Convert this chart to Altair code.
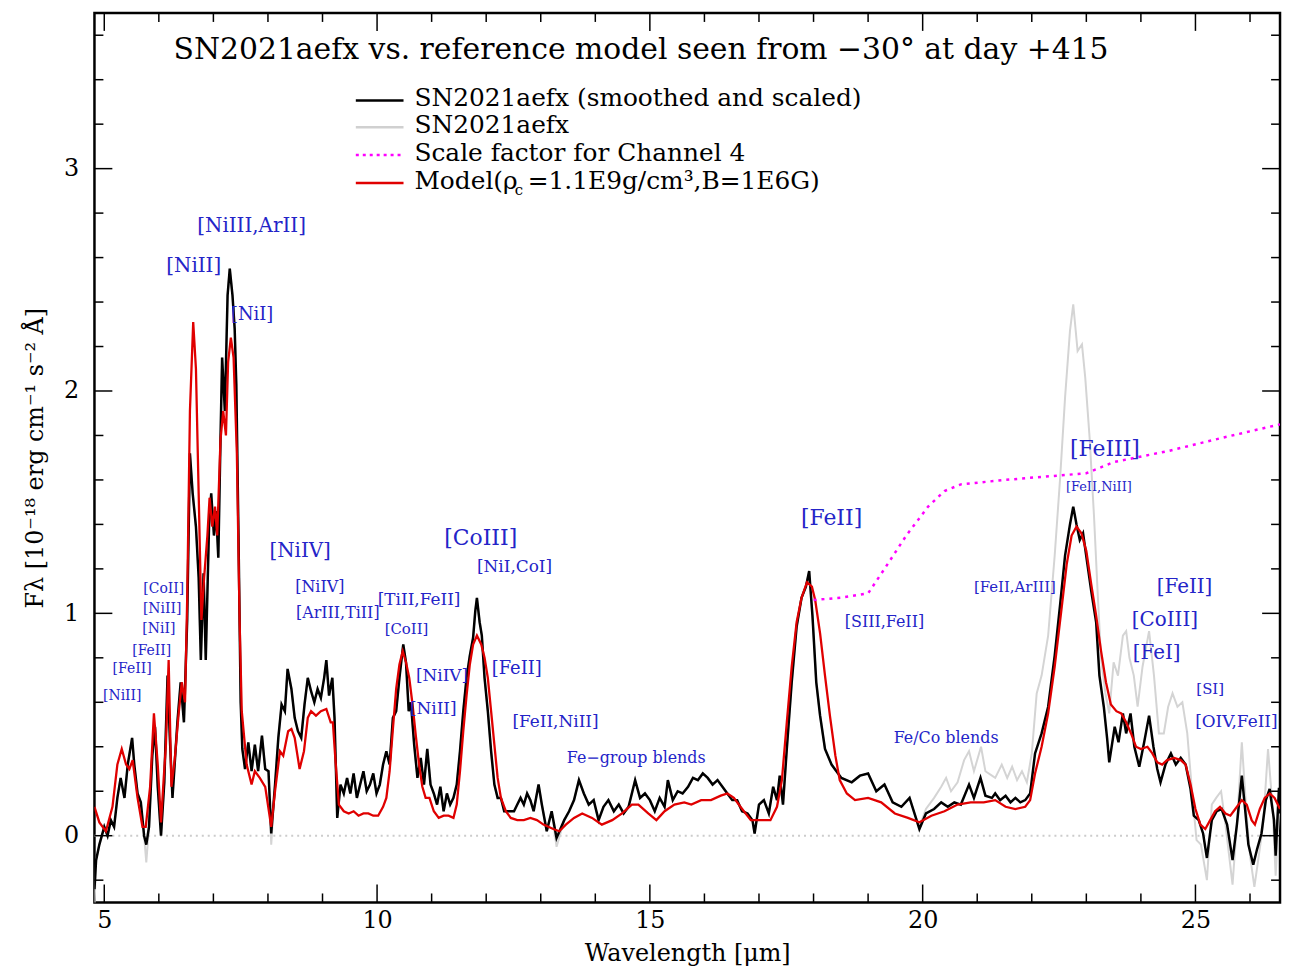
import altair as alt
import pandas as pd

# plot frame
X_MIN, X_MAX = 4.82, 26.55
Y_MIN, Y_MAX = -0.30, 3.70
W, H = 1193, 895

# SN2021aefx, smoothed and scaled (black)
obs_wave = [
    4.82, 4.85, 4.91, 5.00, 5.06, 5.12, 5.18, 5.24, 5.30, 5.37, 5.43, 5.51, 5.55, 5.61, 5.67,
    5.73, 5.77, 5.82, 5.88, 5.93, 5.98, 6.04, 6.10, 6.16, 6.20, 6.25, 6.34, 6.40, 6.46, 6.52,
    6.57, 6.62, 6.68, 6.73, 6.77, 6.82, 6.86, 6.92, 6.96, 7.01, 7.05, 7.09, 7.13, 7.16, 7.21,
    7.26, 7.30, 7.35, 7.39, 7.42, 7.46, 7.50, 7.53, 7.58, 7.64, 7.70, 7.76, 7.82, 7.89, 7.95,
    8.01, 8.06, 8.13, 8.19, 8.25, 8.31, 8.36, 8.43, 8.49, 8.55, 8.61, 8.67, 8.73, 8.79, 8.85,
    8.91, 8.97, 9.03, 9.07, 9.12, 9.18, 9.22, 9.27, 9.33, 9.39, 9.45, 9.51, 9.57, 9.63, 9.69,
    9.75, 9.81, 9.87, 9.93, 9.99, 10.05, 10.11, 10.17, 10.23, 10.29, 10.35, 10.41, 10.48, 10.53,
    10.58, 10.62, 10.68, 10.74, 10.80, 10.86, 10.92, 10.98, 11.04, 11.10, 11.16, 11.22, 11.28,
    11.34, 11.40, 11.46, 11.52, 11.58, 11.64, 11.70, 11.76, 11.80, 11.83, 11.88, 11.92, 11.97,
    12.03, 12.09, 12.15, 12.21, 12.27, 12.33, 12.39, 12.45, 12.51, 12.57, 12.63, 12.69, 12.75,
    12.81, 12.87, 12.96, 13.02, 13.11, 13.20, 13.29, 13.43, 13.52, 13.61, 13.70, 13.79, 13.88,
    13.97, 14.06, 14.15, 14.24, 14.34, 14.43, 14.52, 14.61, 14.73, 14.82, 14.91, 15.00, 15.09,
    15.18, 15.27, 15.33, 15.42, 15.51, 15.60, 15.70, 15.79, 15.88, 15.97, 16.06, 16.15, 16.24,
    16.33, 16.42, 16.51, 16.60, 16.69, 16.79, 16.88, 16.92, 17.00, 17.09, 17.18, 17.26, 17.33,
    17.38, 17.44, 17.51, 17.60, 17.69, 17.78, 17.86, 17.92, 17.98, 18.05, 18.12, 18.21, 18.33,
    18.51, 18.70, 18.85, 19.00, 19.15, 19.30, 19.45, 19.61, 19.76, 19.85, 19.94, 20.06, 20.21,
    20.34, 20.46, 20.58, 20.70, 20.85, 20.94, 21.06, 21.15, 21.27, 21.33, 21.42, 21.52, 21.61,
    21.70, 21.79, 21.88, 21.97, 22.06, 22.18, 22.30, 22.42, 22.52, 22.61, 22.70, 22.76, 22.82,
    22.88, 22.94, 23.02, 23.09, 23.18, 23.24, 23.32, 23.38, 23.42, 23.52, 23.59, 23.67, 23.73,
    23.81, 23.88, 23.97, 24.06, 24.15, 24.23, 24.30, 24.36, 24.45, 24.55, 24.64, 24.73, 24.82,
    24.91, 24.97, 25.06, 25.14, 25.21, 25.30, 25.39, 25.48, 25.58, 25.68, 25.76, 25.85, 25.91,
    25.97, 26.06, 26.13, 26.21, 26.29, 26.36, 26.44, 26.47, 26.53, 26.55,
]
obs_flux = [
    -0.24, -0.11, -0.04, 0.04, 0.00, 0.07, 0.04, 0.17, 0.26, 0.17, 0.32, 0.44, 0.32, 0.19, 0.15,
    0.00, -0.04, 0.04, 0.36, 0.49, 0.22, 0.00, 0.24, 0.72, 0.45, 0.17, 0.51, 0.69, 0.51, 0.97,
    1.72, 1.54, 1.39, 1.16, 0.79, 1.18, 0.79, 1.39, 1.54, 1.35, 1.46, 1.25, 1.78, 2.15, 1.91,
    2.43, 2.55, 2.43, 2.28, 2.03, 1.35, 0.60, 0.39, 0.30, 0.42, 0.29, 0.41, 0.29, 0.45, 0.30,
    0.29, 0.01, 0.23, 0.44, 0.59, 0.56, 0.75, 0.66, 0.53, 0.47, 0.44, 0.59, 0.71, 0.65, 0.60,
    0.66, 0.62, 0.71, 0.79, 0.63, 0.71, 0.53, 0.08, 0.23, 0.19, 0.26, 0.19, 0.28, 0.17, 0.23,
    0.29, 0.20, 0.23, 0.28, 0.19, 0.23, 0.32, 0.38, 0.32, 0.53, 0.56, 0.71, 0.86, 0.78,
    0.56, 0.60, 0.41, 0.26, 0.35, 0.23, 0.39, 0.23, 0.19, 0.14, 0.22, 0.11, 0.19,
    0.14, 0.17, 0.23, 0.38, 0.56, 0.71, 0.81, 0.89, 1.01, 1.07, 0.96, 0.90, 0.71,
    0.56, 0.38, 0.23, 0.17, 0.17, 0.11, 0.11, 0.11, 0.11, 0.14, 0.17, 0.14, 0.19,
    0.16, 0.11, 0.23, 0.14, 0.02, 0.11, -0.01, 0.07, 0.11, 0.16, 0.25, 0.19, 0.14,
    0.16, 0.07, 0.13, 0.16, 0.11, 0.14, 0.10, 0.13, 0.25, 0.17, 0.19, 0.16, 0.11,
    0.17, 0.13, 0.25, 0.16, 0.20, 0.19, 0.22, 0.26, 0.25, 0.28, 0.26, 0.23, 0.25,
    0.22, 0.19, 0.16, 0.16, 0.11, 0.10, 0.07, 0.01, 0.14, 0.16, 0.10, 0.22, 0.16,
    0.27, 0.14, 0.39, 0.69, 0.94, 1.07, 1.12, 1.19, 0.99, 0.69, 0.54, 0.39, 0.32,
    0.26, 0.24, 0.27, 0.28, 0.20, 0.23, 0.15, 0.13, 0.17, 0.10, 0.03, 0.10, 0.12,
    0.15, 0.13, 0.15, 0.14, 0.23, 0.17, 0.26, 0.18, 0.17, 0.19, 0.16, 0.18, 0.15,
    0.17, 0.15, 0.16, 0.19, 0.37, 0.46, 0.58, 0.81, 1.04, 1.26, 1.40, 1.48, 1.40,
    1.33, 1.36, 1.22, 1.10, 0.96, 0.72, 0.58, 0.44, 0.33, 0.49, 0.42, 0.55, 0.46,
    0.55, 0.40, 0.31, 0.42, 0.54, 0.40, 0.30, 0.24, 0.32, 0.37, 0.32, 0.35, 0.32,
    0.21, 0.09, 0.07, 0.01, -0.10, 0.07, 0.11, 0.12, 0.05, -0.11, 0.05, 0.27, 0.12,
    -0.04, -0.13, -0.06, 0.01, 0.16, 0.21, 0.07, -0.09, 0.21, 0.21,
]

# SN2021aefx unsmoothed (light grey): where it departs from the black curve
raw_dips = {4.82: -0.32, 5.77: -0.12, 8.06: -0.04, 13.29: -0.05}
raw_wave_hi = [
    19.94, 20.06, 20.21, 20.34, 20.43, 20.52, 20.64, 20.76, 20.85, 20.94, 21.07, 21.15, 21.27,
    21.33, 21.45, 21.55, 21.64, 21.73, 21.82, 21.91, 22.00, 22.09, 22.18, 22.30, 22.42, 22.52,
    22.61, 22.70, 22.76, 22.84, 22.92, 22.98, 23.06, 23.14, 23.21, 23.27, 23.35, 23.42, 23.50,
    23.58, 23.67, 23.73, 23.79, 23.87, 23.94, 24.03, 24.15, 24.24, 24.33, 24.42, 24.50, 24.58,
    24.67, 24.76, 24.85, 24.94, 25.02, 25.10, 25.21, 25.30, 25.38, 25.47, 25.55, 25.68, 25.77,
    25.85, 25.93, 26.00, 26.08, 26.15, 26.24, 26.33, 26.41, 26.47, 26.53,
]
raw_flux_hi = [
    0.04, 0.12, 0.17, 0.22, 0.26, 0.20, 0.24, 0.34, 0.38, 0.29, 0.40, 0.29, 0.27,
    0.26, 0.32, 0.26, 0.31, 0.25, 0.29, 0.24, 0.37, 0.64, 0.72, 0.90, 1.26, 1.61,
    1.97, 2.27, 2.39, 2.18, 2.21, 2.06, 1.79, 1.44, 1.08, 0.80, 0.64, 0.55, 0.78,
    0.72, 0.90, 0.92, 0.80, 0.72, 0.58, 0.76, 0.92, 0.72, 0.46, 0.46, 0.58, 0.64,
    0.58, 0.60, 0.46, 0.19, -0.02, -0.04, -0.20, 0.14, 0.17, 0.20, 0.05, -0.22, 0.09,
    0.42, 0.12, -0.09, -0.23, -0.11, 0.05, 0.39, 0.14, -0.18, 0.10,
]

# Model (red)
model_wave = [
    4.82, 4.91, 5.03, 5.15, 5.24, 5.32, 5.40, 5.46, 5.52, 5.61, 5.70, 5.76, 5.84, 5.91, 5.98,
    6.04, 6.09, 6.13, 6.18, 6.23, 6.29, 6.36, 6.42, 6.48, 6.52, 6.57, 6.63, 6.68, 6.73, 6.78,
    6.83, 6.89, 6.93, 6.98, 7.03, 7.07, 7.13, 7.18, 7.23, 7.27, 7.32, 7.37, 7.43, 7.48, 7.52,
    7.61, 7.70, 7.76, 7.85, 7.95, 8.06, 8.13, 8.22, 8.28, 8.37, 8.43, 8.49, 8.58, 8.66, 8.73,
    8.79, 8.88, 8.97, 9.07, 9.15, 9.19, 9.24, 9.30, 9.39, 9.48, 9.57, 9.66, 9.75, 9.84, 9.93,
    10.02, 10.11, 10.17, 10.23, 10.29, 10.35, 10.41, 10.47, 10.53, 10.59, 10.65, 10.71, 10.77,
    10.83, 10.89, 10.96, 11.04, 11.13, 11.22, 11.31, 11.40, 11.46, 11.52, 11.58, 11.64, 11.70,
    11.76, 11.83, 11.91, 11.97, 12.03, 12.09, 12.15, 12.21, 12.27, 12.36, 12.45, 12.57, 12.69,
    12.81, 12.93, 13.05, 13.14, 13.23, 13.34, 13.46, 13.61, 13.76, 13.94, 14.12, 14.31, 14.49,
    14.67, 14.79, 14.97, 15.12, 15.27, 15.45, 15.63, 15.76, 15.94, 16.12, 16.30, 16.42, 16.54,
    16.66, 16.85, 17.03, 17.21, 17.33, 17.42, 17.51, 17.60, 17.69, 17.78, 17.88, 17.97, 18.03,
    18.12, 18.21, 18.30, 18.40, 18.48, 18.61, 18.76, 19.00, 19.24, 19.49, 19.73, 19.94, 20.16,
    20.40, 20.64, 20.88, 21.12, 21.33, 21.52, 21.70, 21.88, 21.97, 22.06, 22.18, 22.30, 22.42,
    22.55, 22.64, 22.73, 22.82, 22.91, 23.00, 23.09, 23.18, 23.27, 23.36, 23.45, 23.55, 23.64,
    23.73, 23.82, 23.91, 24.00, 24.12, 24.21, 24.30, 24.39, 24.48, 24.61, 24.73, 24.82, 24.91,
    25.00, 25.09, 25.18, 25.27, 25.36, 25.45, 25.55, 25.64, 25.73, 25.85, 25.94, 26.03, 26.09,
    26.18, 26.27, 26.36, 26.45, 26.55,
]
model_flux = [
    0.13, 0.06, 0.02, 0.13, 0.32, 0.39, 0.32, 0.30, 0.34, 0.17, 0.04, 0.04, 0.22, 0.55, 0.32,
    0.06, 0.26, 0.41, 0.79, 0.22, 0.34, 0.54, 0.69, 0.60, 1.07, 1.91, 2.31, 2.10, 1.54, 0.97,
    1.16, 1.35, 1.52, 1.39, 1.48, 1.35, 1.78, 1.91, 1.80, 2.13, 2.24, 2.15, 1.72, 0.97, 0.56,
    0.32, 0.23, 0.29, 0.26, 0.22, 0.04, 0.20, 0.38, 0.36, 0.47, 0.48, 0.44, 0.30, 0.38, 0.53,
    0.56, 0.54, 0.56, 0.57, 0.51, 0.51, 0.33, 0.14, 0.11, 0.10, 0.11, 0.09, 0.10, 0.10, 0.09,
    0.09, 0.13, 0.17, 0.29, 0.48, 0.66, 0.77, 0.83, 0.78, 0.71, 0.59, 0.45, 0.32,
    0.22, 0.17, 0.17, 0.11, 0.08, 0.09, 0.09, 0.08, 0.14, 0.29, 0.47, 0.63, 0.77,
    0.86, 0.90, 0.86, 0.80, 0.71, 0.56, 0.41, 0.26, 0.17, 0.11, 0.08, 0.07, 0.07,
    0.08, 0.07, 0.05, 0.04, 0.03, 0.02, 0.05, 0.08, 0.10, 0.08, 0.05, 0.07, 0.10,
    0.14, 0.14, 0.10, 0.07, 0.11, 0.14, 0.15, 0.14, 0.16, 0.16, 0.18, 0.19, 0.17,
    0.13, 0.07, 0.07, 0.07, 0.13, 0.25, 0.51, 0.76, 0.96, 1.07, 1.14, 1.12, 1.06,
    0.91, 0.72, 0.54, 0.36, 0.25, 0.19, 0.16, 0.17, 0.15, 0.10, 0.08, 0.06, 0.09,
    0.11, 0.14, 0.15, 0.15, 0.16, 0.13, 0.12, 0.13, 0.16, 0.28, 0.40, 0.55, 0.76,
    1.03, 1.22, 1.35, 1.39, 1.36, 1.28, 1.13, 0.99, 0.83, 0.69, 0.59, 0.56, 0.55,
    0.51, 0.46, 0.40, 0.39, 0.40, 0.37, 0.33, 0.32, 0.34, 0.35, 0.34, 0.32, 0.23,
    0.12, 0.05, 0.03, 0.07, 0.11, 0.13, 0.10, 0.09, 0.12, 0.16, 0.14, 0.07, 0.05,
    0.12, 0.17, 0.19, 0.17, 0.12,
]

# scale factor for Channel 4 (magenta dotted)
scale_wave = [18.00, 18.50, 19.00, 19.30, 19.70, 20.10, 20.40, 20.70, 21.50, 22.50, 23.00,
              23.50, 24.50, 25.50, 26.55]
scale_flux = [1.06, 1.07, 1.09, 1.20, 1.35, 1.48, 1.55, 1.58, 1.60, 1.62, 1.63,
              1.68, 1.73, 1.79, 1.85]

# line identifications
lab_text = ["[NiIII,ArII]", "[NiII]", "[NiI]", "[NiIV]", "[NiIV]", "[ArIII,TiII]",
            "[TiII,FeII]", "[CoII]", "[CoIII]", "[NiI,CoI]", "[NiIV]", "[NiII]", "[FeII]",
            "[FeII,NiII]", "Fe\u2212group blends", "[FeII]", "[SIII,FeII]", "Fe/Co blends",
            "[FeII,ArIII]", "[FeIII]", "[FeII,NiII]", "[FeII]", "[CoIII]", "[FeI]", "[SI]",
            "[OIV,FeII]", "[CoII]", "[NiII]", "[NiI]", "[FeII]", "[FeII]", "[NiII]"]
lab_x = [7.70, 6.64, 7.71, 8.59, 8.95, 9.28, 10.77, 10.54, 11.90, 12.52, 11.19, 11.03, 12.56,
         13.27, 14.75, 18.33, 19.30, 20.43, 21.69, 23.34, 23.23, 24.80, 24.44, 24.29, 25.27,
         25.75, 6.09, 6.06, 6.00, 5.87, 5.51, 5.33]
lab_y = [2.74, 2.56, 2.34, 1.28, 1.12, 1.00, 1.06, 0.93, 1.34, 1.21, 0.72, 0.57, 0.75,
         0.51, 0.35, 1.43, 0.96, 0.44, 1.12, 1.74, 1.57, 1.12, 0.97, 0.82, 0.66,
         0.51, 1.11, 1.02, 0.93, 0.83, 0.75, 0.63]
lab_size = [20, 20, 18, 20, 16, 16, 17, 15, 22, 17, 17, 17, 18, 17, 16, 22, 16, 16, 15, 22,
            13, 20, 20, 20, 15, 17, 14, 14, 14, 14, 14, 14]

# legend rows (pixel rows inside the frame)
leg_text = ["SN2021aefx (smoothed and scaled)", "SN2021aefx", "Scale factor for Channel 4"]
leg_row = [86, 113, 141, 169]

raw_wave = [w for w in obs_wave if w < 19.9] + raw_wave_hi
raw_flux = [raw_dips.get(w, f) for w, f in zip(obs_wave, obs_flux) if w < 19.9] + raw_flux_hi

obs = pd.DataFrame({"wave": obs_wave, "flux": obs_flux})
raw = pd.DataFrame({"wave": raw_wave, "flux": raw_flux})
model = pd.DataFrame({"wave": model_wave, "flux": model_flux})
scale = pd.DataFrame({"wave": scale_wave, "flux": scale_flux})
labels = pd.DataFrame({"text": lab_text, "wave": lab_x, "flux": lab_y, "fs": lab_size})

SERIF = "DejaVu Serif"
BLUE = "#2424c8"
LEG_FS = 25

xs = alt.Scale(domain=[X_MIN, X_MAX], nice=False, zero=False)
ys = alt.Scale(domain=[Y_MIN, Y_MAX], nice=False, zero=False)

x_axis = alt.Axis(values=[5, 10, 15, 20, 25], format="d", title="Wavelength [\u03bcm]",
                  grid=False, ticks=False, domain=False, labelFontSize=24, labelFont=SERIF,
                  labelColor="black", labelPadding=6, titleFont=SERIF, titleFontSize=24,
                  titleFontWeight="normal", titleColor="black", titlePadding=9,
                  labelFlush=False)
y_axis = alt.Axis(values=[0, 1, 2, 3], format="d",
                  title="F\u03bb [10\u207b\u00b9\u2078 erg cm\u207b\u00b9 s\u207b\u00b2 \u00c5]",
                  grid=False, ticks=False, domain=False, labelFontSize=24, labelFont=SERIF,
                  labelColor="black", labelPadding=16, titleFont=SERIF, titleFontSize=24,
                  titleFontWeight="normal", titleColor="black", titlePadding=16)


def spectrum(df, color, width, dash=None):
    kw = {"color": color, "strokeWidth": width, "clip": True}
    if dash:
        kw["strokeDash"] = dash
    return alt.Chart(df).mark_line(**kw).encode(
        x=alt.X("wave:Q", scale=xs, axis=x_axis),
        y=alt.Y("flux:Q", scale=ys, axis=y_axis),
    )


zero_line = alt.Chart(pd.DataFrame({"flux": [0.0]})).mark_rule(
    color="#cccccc", strokeDash=[2, 4], strokeWidth=2
).encode(y=alt.Y("flux:Q", scale=ys), x=alt.value(0), x2=alt.value(W))

# inward ticks on all four sides
x_major = [5, 10, 15, 20, 25]
x_minor = [v for v in range(5, 27) if v not in x_major]
y_major = [0, 1, 2, 3]
y_minor = [round(-0.2 + 0.2 * i, 1) for i in range(20) if round(-0.2 + 0.2 * i, 1) not in y_major]


def xticks(vals, length):
    d = pd.DataFrame({"wave": vals})
    bottom = alt.Chart(d).mark_rule(color="black", strokeWidth=1.5).encode(
        x=alt.X("wave:Q", scale=xs), y=alt.value(H), y2=alt.value(H - length))
    top = alt.Chart(d).mark_rule(color="black", strokeWidth=1.5).encode(
        x=alt.X("wave:Q", scale=xs), y=alt.value(0), y2=alt.value(length))
    return bottom + top


def yticks(vals, length):
    d = pd.DataFrame({"flux": vals})
    left = alt.Chart(d).mark_rule(color="black", strokeWidth=1.5).encode(
        y=alt.Y("flux:Q", scale=ys), x=alt.value(0), x2=alt.value(length))
    right = alt.Chart(d).mark_rule(color="black", strokeWidth=1.5).encode(
        y=alt.Y("flux:Q", scale=ys), x=alt.value(W), x2=alt.value(W - length))
    return left + right


ticks = xticks(x_major, 18) + xticks(x_minor, 9) + yticks(y_major, 18) + yticks(y_minor, 9)

ids = alt.Chart(labels).mark_text(font=SERIF, color=BLUE, baseline="middle").encode(
    x=alt.X("wave:Q", scale=xs), y=alt.Y("flux:Q", scale=ys),
    text="text:N", size=alt.Size("fs:Q", scale=None, legend=None))

title = alt.Chart(pd.DataFrame({"t": ["SN2021aefx vs. reference model seen from \u221230\u00b0 at day +415"]})).mark_text(
    font=SERIF, fontSize=30, color="black", baseline="middle"
).encode(x=alt.value(550), y=alt.value(37), text="t:N")

# hand-drawn legend
leg_colors = ["black", "#d0d0d0", "#ff00ff", "#e00000"]
leg_lines = []
for row, col in zip(leg_row, leg_colors):
    kw = {"color": col, "strokeWidth": 2.5}
    if col == "#ff00ff":
        kw["strokeDash"] = [3, 4]
    leg_lines.append(alt.Chart(pd.DataFrame({"r": [row]})).mark_rule(**kw).encode(
        x=alt.value(263), x2=alt.value(311), y=alt.value(row + 2)))
leg_df = pd.DataFrame({"text": leg_text, "row": leg_row[:3]})
leg_txt = alt.Chart(leg_df).mark_text(font=SERIF, fontSize=LEG_FS, align="left", baseline="middle").encode(
    x=alt.value(322), y=alt.Y("row:Q", scale=None), text="text:N")
m1 = alt.Chart(pd.DataFrame({"t": ["Model(\u03c1"]})).mark_text(
    font=SERIF, fontSize=LEG_FS, align="left", baseline="middle").encode(
    x=alt.value(322), y=alt.value(leg_row[3]), text="t:N")
m2 = alt.Chart(pd.DataFrame({"t": ["c"]})).mark_text(
    font=SERIF, fontSize=15, align="left", baseline="middle").encode(
    x=alt.value(423), y=alt.value(leg_row[3] + 9), text="t:N")
m3 = alt.Chart(pd.DataFrame({"t": ["=1.1E9g/cm\u00b3,B=1E6G)"]})).mark_text(
    font=SERIF, fontSize=LEG_FS, align="left", baseline="middle").encode(
    x=alt.value(436), y=alt.value(leg_row[3]), text="t:N")

chart = alt.layer(
    zero_line,
    spectrum(raw, "#d4d4d4", 2),
    spectrum(obs, "black", 2.5),
    spectrum(model, "#e00000", 2.3),
    spectrum(scale, "#ff00ff", 2.5, [3, 5]),
    ticks, ids, title, *leg_lines, leg_txt, m1, m2, m3,
).properties(
    width=W, height=H,
    autosize=alt.AutoSizeParams(type="none"),
    padding={"left": 87, "top": 2, "right": 3, "bottom": 66},
).configure_view(stroke="black", strokeWidth=2.5)

chart.save("out.html", embed_options={"renderer": "svg", "actions": False})
